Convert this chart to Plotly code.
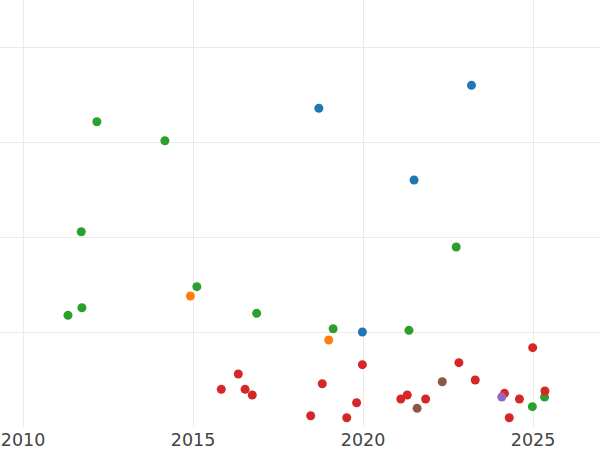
import plotly.graph_objects as go

# Data (decimal years, values)
blue_x = [2018.70, 2023.19, 2021.50, 2019.98]
blue_y = [33.59, 36.01, 26.03, 10.01]

orange_x = [2014.92, 2018.99]
orange_y = [13.81, 9.17]

green_x = [2012.17, 2014.17, 2011.71, 2011.32, 2011.73, 2015.11, 2016.87,
           2019.12, 2021.35, 2022.74, 2024.98, 2025.34]
green_y = [32.17, 30.17, 20.58, 11.77, 12.57, 14.79, 11.98,
           10.36, 10.19, 18.97, 2.14, 3.16]

red_x = [2016.33, 2015.83, 2016.53, 2016.74, 2018.80, 2018.46, 2019.98,
         2019.81, 2019.52, 2021.11, 2021.30, 2021.84, 2022.82, 2023.30,
         2024.16, 2024.60, 2024.30, 2024.99, 2025.35]
red_y = [5.59, 3.97, 3.97, 3.37, 4.56, 1.19, 6.57,
         2.56, 0.98, 2.95, 3.37, 2.95, 6.78, 4.95,
         3.55, 2.95, 0.98, 8.36, 3.79]

purple_x = [2024.08]
purple_y = [3.16]

brown_x = [2022.33, 2021.59]
brown_y = [4.77, 1.97]

x_ticks = [2010, 2015, 2020, 2025]
x_tick_labels = ["2010", "2015", "2020", "2025"]

series = [
    (blue_x, blue_y, "#1f77b4"),
    (orange_x, orange_y, "#ff7f0e"),
    (green_x, green_y, "#2ca02c"),
    (red_x, red_y, "#d62728"),
    (purple_x, purple_y, "#9467bd"),
    (brown_x, brown_y, "#8c564b"),
]

fig = go.Figure()
for xs, ys, col in series:
    fig.add_trace(go.Scatter(x=xs, y=ys, mode="markers",
                             marker=dict(color=col, size=9),
                             showlegend=False))

fig.update_layout(
    width=600, height=450,
    margin=dict(l=0, r=0, t=0, b=23, pad=0),
    paper_bgcolor="white", plot_bgcolor="white",
    font=dict(family="DejaVu Sans", size=17.5, color="#444"),
    xaxis=dict(range=[2009.32, 2026.97], tickvals=x_ticks, ticktext=x_tick_labels,
               showgrid=True, gridcolor="#ebebeb", zeroline=False, showline=False,
               ticks=""),
    yaxis=dict(range=[0, 45], dtick=10, showticklabels=False,
               showgrid=True, gridcolor="#ebebeb", zeroline=False, showline=False,
               ticks=""),
)

fig.write_html("out.html",
               config={"displayModeBar": False},
               post_script="document.body.style.margin='0';document.body.style.overflow='hidden';")
